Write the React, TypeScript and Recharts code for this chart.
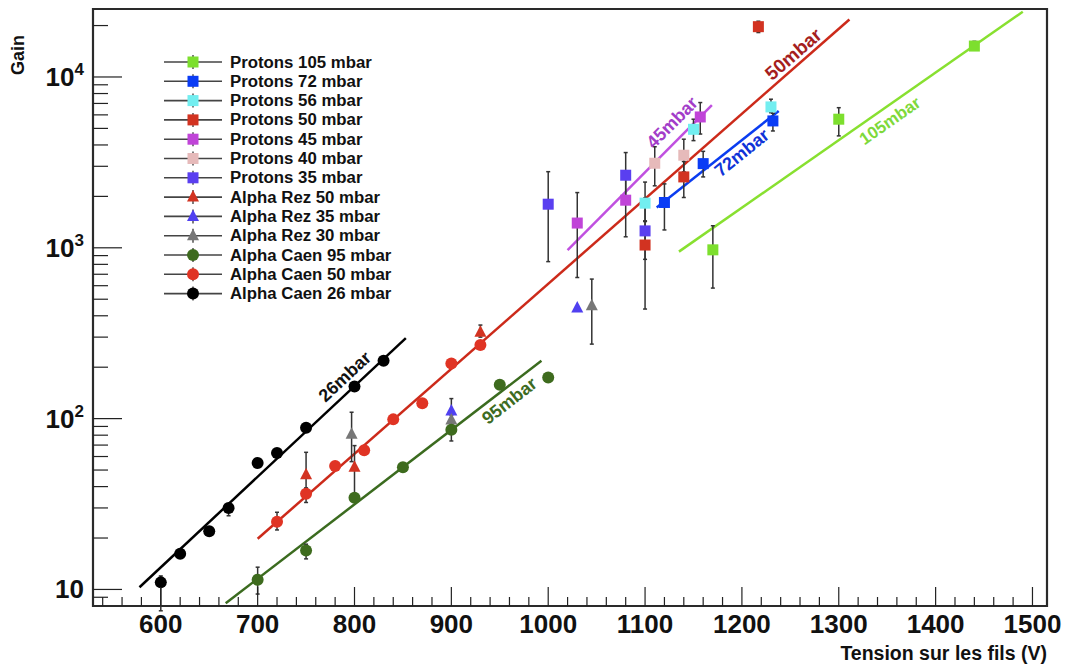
import {
  ScatterChart,
  Scatter,
  XAxis,
  YAxis,
  ErrorBar,
  ReferenceLine,
  ReferenceDot,
  ReferenceArea,
} from 'recharts'

// Mesures : tension (V), gain, erreur [bas, haut]
const protons105 = [
  { v: 1170, gain: 973, err: [392, 373] },
  { v: 1300, gain: 5660, err: [1140, 950] },
  { v: 1440, gain: 15170, err: [800, 1000] },
]
const protons72 = [
  { v: 1120, gain: 1842, err: [570, 525] },
  { v: 1160, gain: 3110, err: [510, 560] },
  { v: 1232, gain: 5530, err: [700, 600] },
]
const protons56 = [
  { v: 1100, gain: 1825, err: [400, 600] },
  { v: 1150, gain: 4940, err: [700, 720] },
  { v: 1230, gain: 6680, err: [500, 730] },
]
const protons50 = [
  { v: 1100, gain: 1038, err: [600, 400] },
  { v: 1140, gain: 2600, err: [630, 600] },
  { v: 1217, gain: 19700, err: [1500, 1500] },
]
const protons45 = [
  { v: 1030, gain: 1396, err: [726, 709] },
  { v: 1080, gain: 1900, err: [740, 700] },
  { v: 1157, gain: 5834, err: [1200, 1250] },
]
const protons40 = [
  { v: 1110, gain: 3126, err: [820, 780] },
  { v: 1140, gain: 3483, err: [700, 840] },
]
const protons35 = [
  { v: 1000, gain: 1800, err: [970, 990] },
  { v: 1080, gain: 2660, err: [700, 950] },
  { v: 1100, gain: 1256, err: [400, 700] },
]
const alphaRez50 = [
  { v: 750, gain: 47, err: [8, 16.5] },
  { v: 800, gain: 51.9, err: [18.7, 17.6] },
  { v: 930, gain: 320, err: [20, 33] },
]
const alphaRez35 = [
  { v: 900, gain: 111, err: [6, 20] },
  { v: 1030, gain: 444, err: [0, 0] },
]
const alphaRez30 = [
  { v: 797, gain: 81, err: [25, 28] },
  { v: 900, gain: 98, err: [5, 8] },
  { v: 1045, gain: 458, err: [185, 198] },
]
const alphaCaen95 = [
  { v: 700, gain: 11.4, err: [2, 2.1] },
  { v: 750, gain: 16.9, err: [1.8, 1.5] },
  { v: 800, gain: 34.4, err: [0, 0] },
  { v: 850, gain: 51.9, err: [0, 0] },
  { v: 900, gain: 86, err: [12, 10] },
  { v: 950, gain: 158, err: [0, 0] },
  { v: 1000, gain: 174, err: [0, 0] },
]
const alphaCaen50 = [
  { v: 720, gain: 24.9, err: [2.6, 3.4] },
  { v: 750, gain: 36.3, err: [4, 3] },
  { v: 780, gain: 52.8, err: [0, 0] },
  { v: 810, gain: 65.3, err: [0, 0] },
  { v: 840, gain: 99, err: [0, 0] },
  { v: 870, gain: 123, err: [0, 0] },
  { v: 900, gain: 210, err: [0, 0] },
  { v: 930, gain: 270, err: [0, 0] },
]
const alphaCaen26 = [
  { v: 600, gain: 11, err: [3.5, 1] },
  { v: 620, gain: 16.2, err: [0, 0] },
  { v: 650, gain: 21.9, err: [0, 0] },
  { v: 670, gain: 30, err: [3, 0] },
  { v: 700, gain: 55, err: [0, 0] },
  { v: 720, gain: 63, err: [0, 0] },
  { v: 750, gain: 88.5, err: [0, 0] },
  { v: 800, gain: 154, err: [0, 0] },
  { v: 830, gain: 218, err: [0, 0] },
]

// Droites d'ajustement (extrémités)
const fit26 = [{ v: 578, gain: 10.3 }, { v: 853, gain: 296 }]
const fit50 = [{ v: 700, gain: 19.8 }, { v: 1311, gain: 21700 }]
const fit95 = [{ v: 667, gain: 8.3 }, { v: 993, gain: 218 }]
const fit45 = [{ v: 1020, gain: 970 }, { v: 1169, gain: 6840 }]
const fit72 = [{ v: 1112, gain: 1722 }, { v: 1238, gain: 6324 }]
const fit105 = [{ v: 1135, gain: 950 }, { v: 1490, gain: 24100 }]

// Axes
const xDomain = [530, 1515]
const yDomain = [8, 25000]
const xTicks = Array.from({ length: 49 }, (_, i) => 540 + i * 20)
const yTicks = [
  9, 10, 20, 30, 40, 50, 60, 70, 80, 90,
  100, 200, 300, 400, 500, 600, 700, 800, 900,
  1000, 2000, 3000, 4000, 5000, 6000, 7000, 8000, 9000,
  10000, 20000,
]

const FONT = 'Liberation Sans, Arial, Helvetica, sans-serif'

const series = [
  { name: 'Protons 105 mbar', data: protons105, color: '#7ddf2e', shape: 'square' },
  { name: 'Protons 72 mbar', data: protons72, color: '#0a3cf5', shape: 'square' },
  { name: 'Protons 56 mbar', data: protons56, color: '#72eef0', shape: 'square' },
  { name: 'Protons 50 mbar', data: protons50, color: '#d23321', shape: 'square' },
  { name: 'Protons 45 mbar', data: protons45, color: '#c044d8', shape: 'square' },
  { name: 'Protons 40 mbar', data: protons40, color: '#e6baba', shape: 'square' },
  { name: 'Protons 35 mbar', data: protons35, color: '#5a3ff0', shape: 'square' },
  { name: 'Alpha Rez 50 mbar', data: alphaRez50, color: '#d23321', shape: 'triangle' },
  { name: 'Alpha Rez 35 mbar', data: alphaRez35, color: '#5040f0', shape: 'triangle' },
  { name: 'Alpha Rez 30 mbar', data: alphaRez30, color: '#777777', shape: 'triangle' },
  { name: 'Alpha Caen 95 mbar', data: alphaCaen95, color: '#3e6b1e', shape: 'circle' },
  { name: 'Alpha Caen 50 mbar', data: alphaCaen50, color: '#e03424', shape: 'circle' },
  { name: 'Alpha Caen 26 mbar', data: alphaCaen26, color: '#000000', shape: 'circle' },
]

const fits = [
  { seg: fit26, color: '#000000', text: '26mbar', textColor: '#111111', pos: { v: 790, gain: 176 }, angle: -43, size: 18 },
  { seg: fit50, color: '#cc2a1a', text: '50mbar', textColor: '#a51e1e', pos: { v: 1253, gain: 13600 }, angle: -41, size: 19 },
  { seg: fit95, color: '#3b6b1f', text: '95mbar', textColor: '#3d6b22', pos: { v: 960, gain: 127 }, angle: -38, size: 18 },
  { seg: fit45, color: '#c050e0', text: '45mbar', textColor: '#a33dc9', pos: { v: 1128, gain: 5410 }, angle: -45, size: 18 },
  { seg: fit72, color: '#0a3cf0', text: '72mbar', textColor: '#1033d8', pos: { v: 1200, gain: 3600 }, angle: -39, size: 18 },
  { seg: fit105, color: '#88e030', text: '105mbar', textColor: '#7ed93a', pos: { v: 1353, gain: 5530 }, angle: -35, size: 17 },
]

const Marker = ({ cx, cy, fill, kind }: any) => {
  if (cx == null || cy == null) return null
  if (kind === 'square') {
    return <rect x={cx - 5.5} y={cy - 5.5} width={11} height={11} fill={fill} />
  }
  if (kind === 'triangle') {
    return (
      <polygon
        points={`${cx},${cy - 7} ${cx + 6},${cy + 4.5} ${cx - 6},${cy + 4.5}`}
        fill={fill}
      />
    )
  }
  return <circle cx={cx} cy={cy} r={6} fill={fill} />
}

const XTick = ({ x, y, payload }: any) => {
  const major = payload.value % 100 === 0
  return (
    <g>
      <line x1={x} x2={x} y1={y} y2={y - (major ? 19 : 9)} stroke="#222" strokeWidth={1.2} />
      {major && (
        <text
          x={x}
          y={y + 27}
          textAnchor="middle"
          fontFamily={FONT}
          fontWeight="bold"
          fontSize={26}
          fill="#111"
        >
          {payload.value}
        </text>
      )}
    </g>
  )
}

const YTick = ({ x, y, payload }: any) => {
  const exp = Math.log10(payload.value)
  const major = Math.abs(exp - Math.round(exp)) < 1e-6
  return (
    <g>
      <line x1={x} x2={x + (major ? 29 : 15)} y1={y} y2={y} stroke="#222" strokeWidth={1.2} />
      {major && (
        <text
          x={x - 9}
          y={y + 9}
          textAnchor="end"
          fontFamily={FONT}
          fontWeight="bold"
          fontSize={26}
          fill="#111"
        >
          10
          {Math.round(exp) > 1 && (
            <tspan dy={-11} fontSize={17}>
              {Math.round(exp)}
            </tspan>
          )}
        </text>
      )}
    </g>
  )
}

const LegendIcon = ({ x, y, color, kind }: any) => (
  <g>
    <line x1={x - 29} x2={x + 29} y1={y} y2={y} stroke="#444" strokeWidth={1.6} />
    <line x1={x} x2={x} y1={y - 7} y2={y + 7} stroke="#444" strokeWidth={1.4} />
    <Marker cx={x} cy={y} fill={color} kind={kind} />
  </g>
)

export default function App() {
  return (
    <div
      style={{
        position: 'absolute',
        left: 0,
        top: 0,
        width: 1070,
        height: 668,
        background: '#fff',
        overflow: 'hidden',
      }}
    >
      <ScatterChart width={1070} height={668} margin={{ top: 9, right: 23, bottom: 0, left: 0 }}>
        <XAxis
          type="number"
          dataKey="v"
          domain={xDomain}
          allowDataOverflow
          ticks={xTicks}
          interval={0}
          tickSize={0}
          tickMargin={0}
          axisLine={false}
          tickLine={false}
          height={62}
          tick={<XTick />}
        />
        <YAxis
          type="number"
          dataKey="gain"
          scale="log"
          domain={yDomain}
          allowDataOverflow
          ticks={yTicks}
          interval={0}
          tickSize={0}
          tickMargin={0}
          axisLine={false}
          tickLine={false}
          width={93}
          tick={<YTick />}
        />

        {/* Cadre */}
        <ReferenceArea
          x1={xDomain[0]}
          x2={xDomain[1]}
          y1={yDomain[0]}
          y2={yDomain[1]}
          fill="none"
          stroke="#2a2a2a"
          strokeWidth={2.2}
          ifOverflow="visible"
        />

        {/* Ajustements */}
        {fits.map((f) => (
          <ReferenceLine
            key={f.text}
            segment={[
              { x: f.seg[0].v, y: f.seg[0].gain },
              { x: f.seg[1].v, y: f.seg[1].gain },
            ]}
            stroke={f.color}
            strokeWidth={2.5}
            ifOverflow="visible"
          />
        ))}
        {fits.map((f) => (
          <ReferenceDot
            key={`lbl-${f.text}`}
            x={f.pos.v}
            y={f.pos.gain}
            r={0}
            ifOverflow="visible"
            shape={(p: any) => (
              <text
                x={p.cx}
                y={p.cy}
                transform={`rotate(${f.angle} ${p.cx} ${p.cy})`}
                textAnchor="middle"
                dominantBaseline="central"
                fontFamily={FONT}
                fontWeight="bold"
                fontSize={f.size}
                fill={f.textColor}
              >
                {f.text}
              </text>
            )}
          />
        ))}

        {/* Mesures */}
        {series.map((s) => (
          <Scatter
            key={s.name}
            name={s.name}
            data={s.data}
            isAnimationActive={false}
            shape={(p: any) => <Marker cx={p.cx} cy={p.cy} fill={s.color} kind={s.shape} />}
          >
            <ErrorBar
              dataKey="err"
              direction="y"
              width={2}
              stroke="#333"
              strokeWidth={1.5}
              isAnimationActive={false}
            />
          </Scatter>
        ))}
      </ScatterChart>

      {/* Légende, titres */}
      <svg
        width={1070}
        height={668}
        style={{ position: 'absolute', left: 0, top: 0, pointerEvents: 'none' }}
      >
        {series.map((s, i) => (
          <g key={s.name}>
            <LegendIcon x={193} y={62 + i * 19.3} color={s.color} kind={s.shape} />
            <text
              x={230}
              y={62 + i * 19.3}
              dominantBaseline="central"
              fontFamily={FONT}
              fontWeight="bold"
              fontSize={16.8}
              fill="#111"
            >
              {s.name}
            </text>
          </g>
        ))}
        <text
          x={18}
          y={55}
          transform="rotate(-90 18 55)"
          textAnchor="middle"
          dominantBaseline="central"
          fontFamily={FONT}
          fontWeight="bold"
          fontSize={18}
          fill="#111"
        >
          Gain
        </text>
        <text
          x={1047}
          y={660}
          textAnchor="end"
          fontFamily={FONT}
          fontWeight="bold"
          fontSize={19.5}
          fill="#111"
        >
          Tension sur les fils (V)
        </text>
      </svg>
    </div>
  )
}
